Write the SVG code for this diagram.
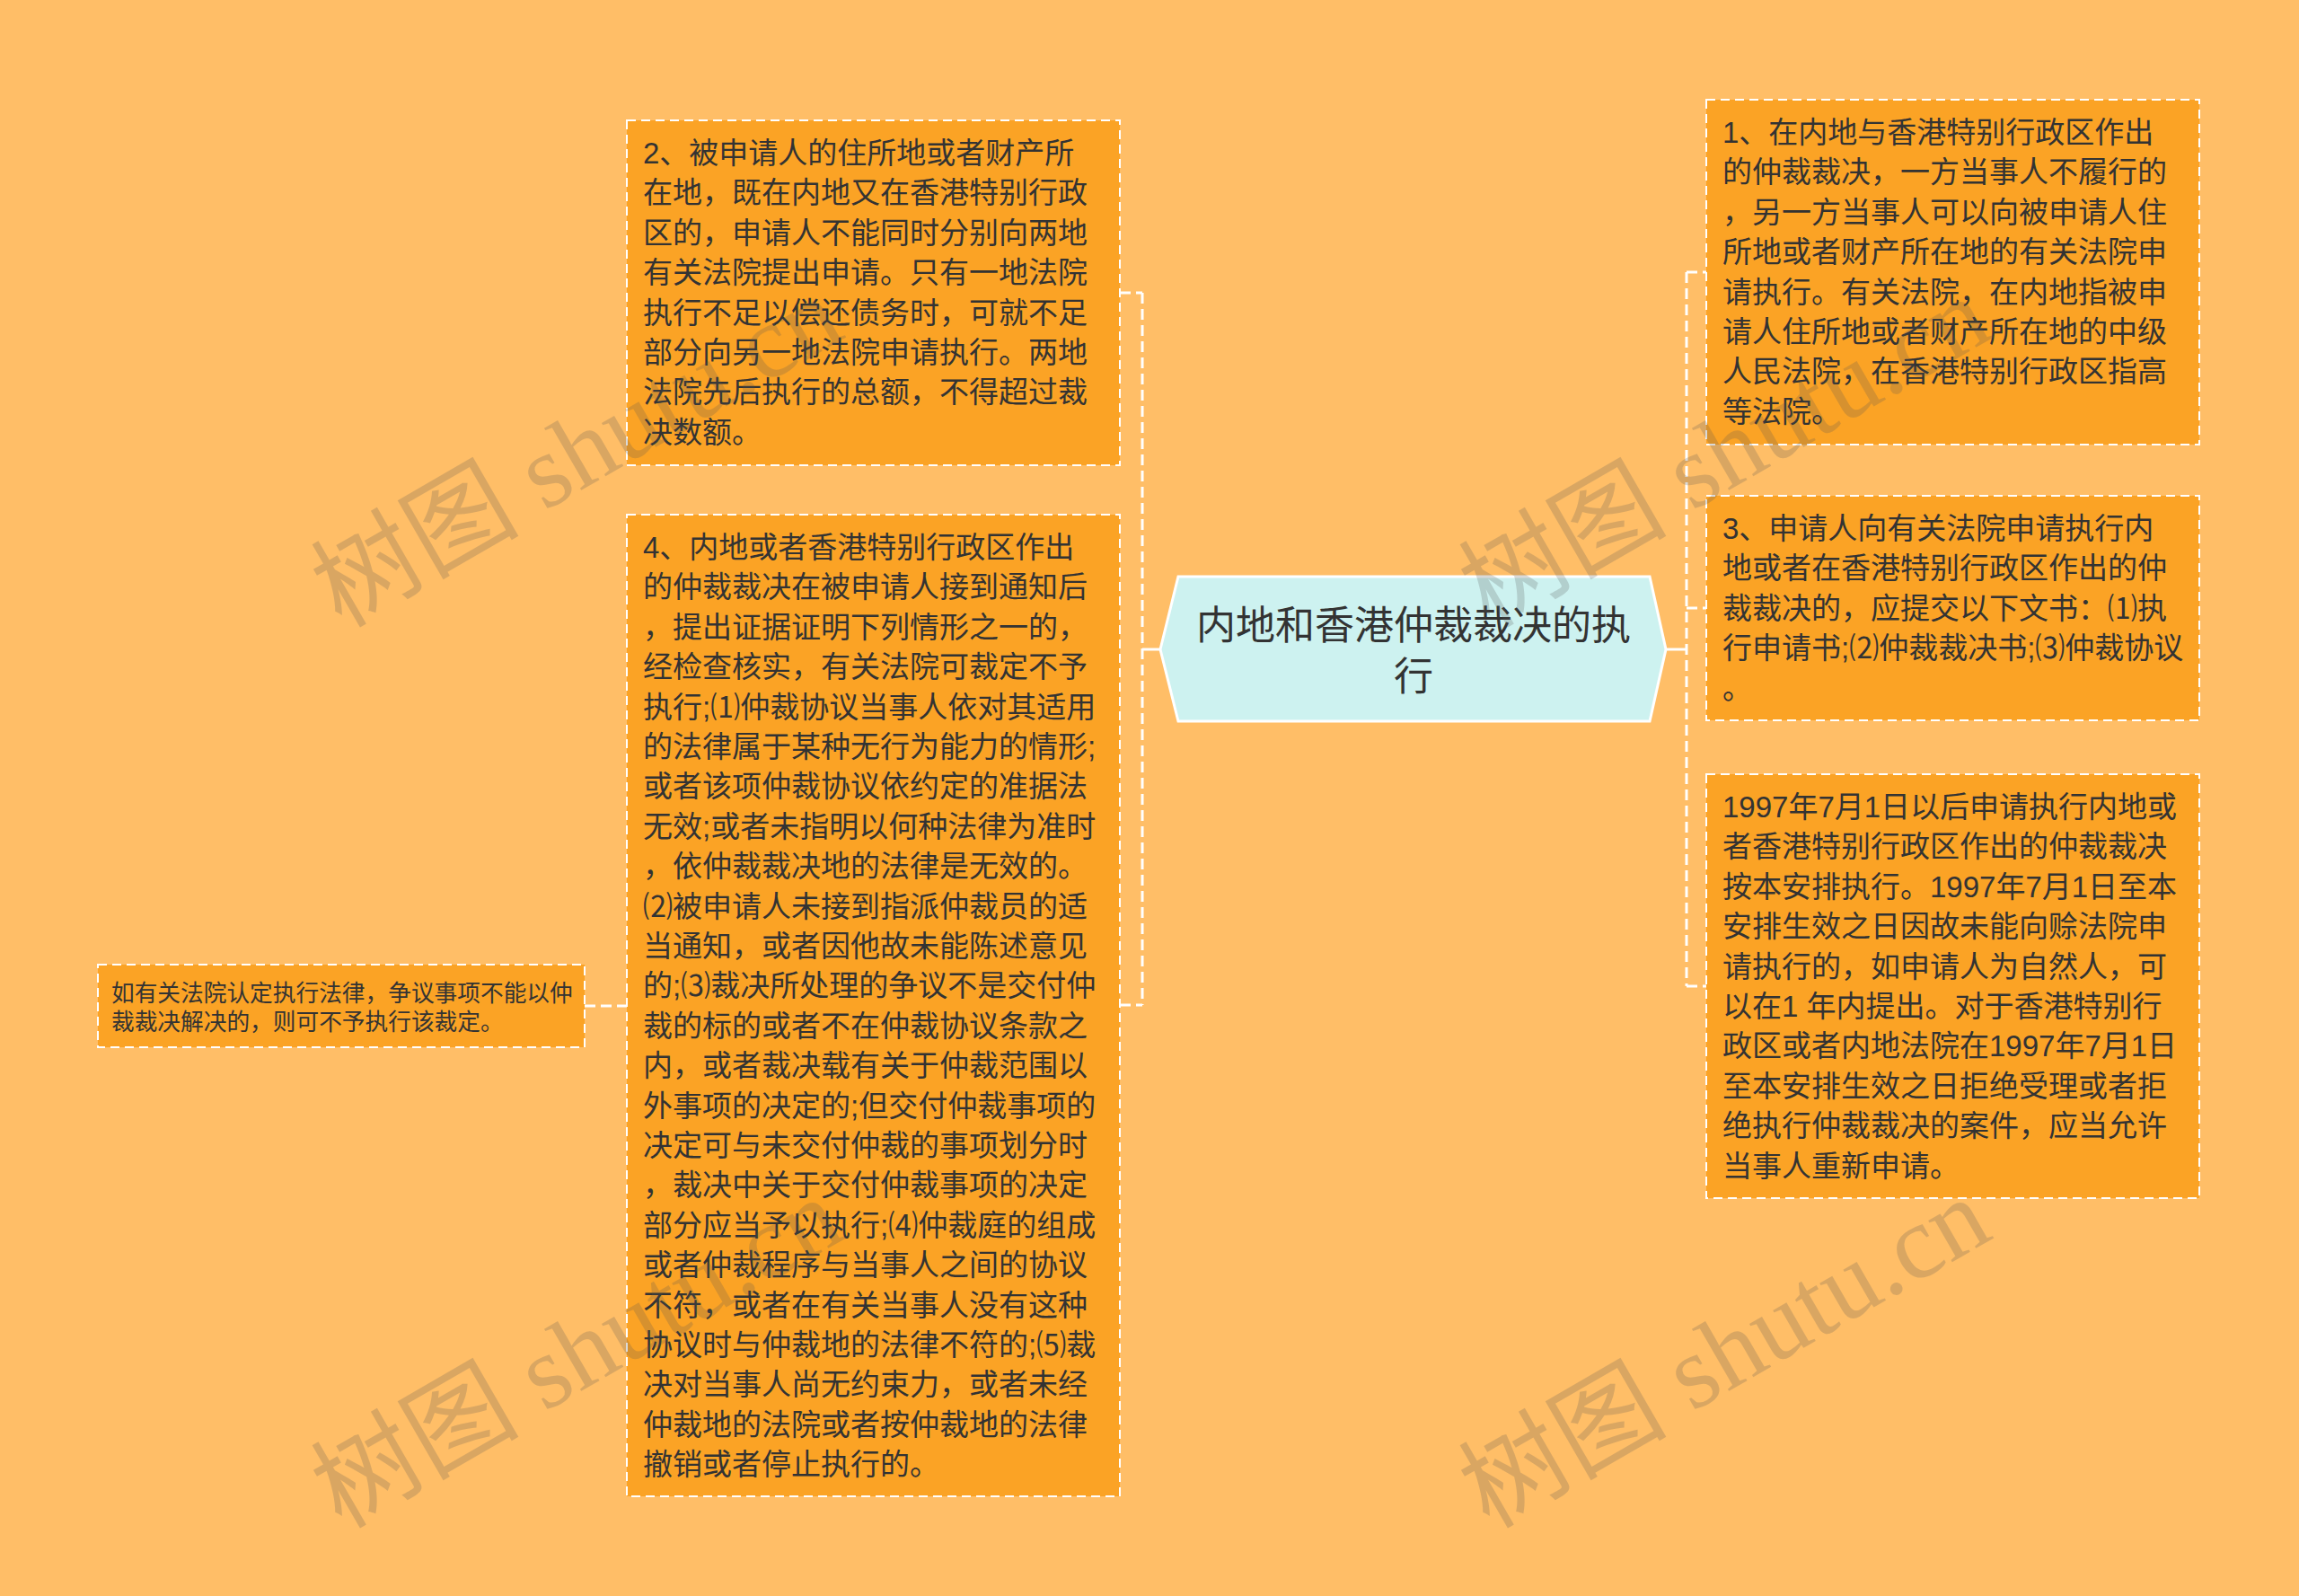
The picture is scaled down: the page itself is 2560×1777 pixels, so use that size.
<svg xmlns="http://www.w3.org/2000/svg" width="2560" height="1777" viewBox="0 0 2560 1777">
<style>
.bg{fill:#ffbe67}
.box{fill:#fba325;stroke:#ffffff;stroke-width:2;stroke-dasharray:10 6}
.t{font-family:'Liberation Sans','Noto Sans CJK SC',sans-serif;font-size:33px;fill:#333333}
.ts{font-family:'Liberation Sans','Noto Sans CJK SC',sans-serif;font-size:25.7px;fill:#333333}
.tc{font-family:'Liberation Sans','Noto Sans CJK SC',sans-serif;font-size:44px;fill:#333333;text-anchor:middle}
.hex{fill:#cdf2f0;stroke:#ffffff;stroke-width:3}
.dash{fill:none;stroke:#ffffff;stroke-width:3;stroke-dasharray:12 6}
.solid{fill:none;stroke:#ffffff;stroke-width:3}
.wm{font-family:'Liberation Serif','Noto Sans CJK SC',serif;font-size:116px;fill:#555555;opacity:0.22}
</style>
<rect class="bg" x="0" y="0" width="2560" height="1777"/>
<g id="connectors">
<path class="solid" d="M1292,723 H1272"/>
<path class="dash" d="M1272,326 V1119"/>
<path class="dash" d="M1247,326 H1272"/>
<path class="dash" d="M1247,1119 H1272"/>
<path class="solid" d="M1855,723 H1878"/>
<path class="dash" d="M1878,303 V1098"/>
<path class="dash" d="M1878,303 H1900"/>
<path class="dash" d="M1878,677 H1900"/>
<path class="dash" d="M1878,1098 H1900"/>
<path class="dash" d="M651,1120 H698"/>
</g>
<g id="center">
<polygon class="hex" points="1292,723 1312,642 1837,642 1855,723 1837,803 1312,803"/>
<text class="tc" x="1574" y="712">内地和香港仲裁裁决的执<tspan x="1574" dy="57">行</tspan></text>
</g>
<g id="nodeA">
<rect class="box" x="698" y="134" width="549" height="384"/>
<text class="t" x="716" y="182"><tspan x="716">2、被申请人的住所地或者财产所</tspan><tspan x="716" dy="44.4">在地，既在内地又在香港特别行政</tspan><tspan x="716" dy="44.4">区的，申请人不能同时分别向两地</tspan><tspan x="716" dy="44.4">有关法院提出申请。只有一地法院</tspan><tspan x="716" dy="44.4">执行不足以偿还债务时，可就不足</tspan><tspan x="716" dy="44.4">部分向另一地法院申请执行。两地</tspan><tspan x="716" dy="44.4">法院先后执行的总额，不得超过裁</tspan><tspan x="716" dy="44.4">决数额。</tspan></text>
</g>
<g id="nodeB">
<rect class="box" x="698" y="573" width="549" height="1093"/>
<text class="t" x="716" y="621"><tspan x="716">4、内地或者香港特别行政区作出</tspan><tspan x="716" dy="44.4">的仲裁裁决在被申请人接到通知后</tspan><tspan x="716" dy="44.4">，提出证据证明下列情形之一的，</tspan><tspan x="716" dy="44.4">经检查核实，有关法院可裁定不予</tspan><tspan x="716" dy="44.4">执行;⑴仲裁协议当事人依对其适用</tspan><tspan x="716" dy="44.4">的法律属于某种无行为能力的情形;</tspan><tspan x="716" dy="44.4">或者该项仲裁协议依约定的准据法</tspan><tspan x="716" dy="44.4">无效;或者未指明以何种法律为准时</tspan><tspan x="716" dy="44.4">，依仲裁裁决地的法律是无效的。</tspan><tspan x="716" dy="44.4">⑵被申请人未接到指派仲裁员的适</tspan><tspan x="716" dy="44.4">当通知，或者因他故未能陈述意见</tspan><tspan x="716" dy="44.4">的;⑶裁决所处理的争议不是交付仲</tspan><tspan x="716" dy="44.4">裁的标的或者不在仲裁协议条款之</tspan><tspan x="716" dy="44.4">内，或者裁决载有关于仲裁范围以</tspan><tspan x="716" dy="44.4">外事项的决定的;但交付仲裁事项的</tspan><tspan x="716" dy="44.4">决定可与未交付仲裁的事项划分时</tspan><tspan x="716" dy="44.4">，裁决中关于交付仲裁事项的决定</tspan><tspan x="716" dy="44.4">部分应当予以执行;⑷仲裁庭的组成</tspan><tspan x="716" dy="44.4">或者仲裁程序与当事人之间的协议</tspan><tspan x="716" dy="44.4">不符，或者在有关当事人没有这种</tspan><tspan x="716" dy="44.4">协议时与仲裁地的法律不符的;⑸裁</tspan><tspan x="716" dy="44.4">决对当事人尚无约束力，或者未经</tspan><tspan x="716" dy="44.4">仲裁地的法院或者按仲裁地的法律</tspan><tspan x="716" dy="44.4">撤销或者停止执行的。</tspan></text>
</g>
<g id="nodeC">
<rect class="box" x="109" y="1074" width="542" height="92"/>
<text class="ts" x="124" y="1115"><tspan x="124">如有关法院认定执行法律，争议事项不能以仲</tspan><tspan x="124" dy="31.5">裁裁决解决的，则可不予执行该裁定。</tspan></text>
</g>
<g id="nodeD">
<rect class="box" x="1900" y="111" width="549" height="384"/>
<text class="t" x="1918" y="159"><tspan x="1918">1、在内地与香港特别行政区作出</tspan><tspan x="1918" dy="44.4">的仲裁裁决，一方当事人不履行的</tspan><tspan x="1918" dy="44.4">，另一方当事人可以向被申请人住</tspan><tspan x="1918" dy="44.4">所地或者财产所在地的有关法院申</tspan><tspan x="1918" dy="44.4">请执行。有关法院，在内地指被申</tspan><tspan x="1918" dy="44.4">请人住所地或者财产所在地的中级</tspan><tspan x="1918" dy="44.4">人民法院，在香港特别行政区指高</tspan><tspan x="1918" dy="44.4">等法院。</tspan></text>
</g>
<g id="nodeE">
<rect class="box" x="1900" y="552" width="549" height="250"/>
<text class="t" x="1918" y="600"><tspan x="1918">3、申请人向有关法院申请执行内</tspan><tspan x="1918" dy="44.4">地或者在香港特别行政区作出的仲</tspan><tspan x="1918" dy="44.4">裁裁决的，应提交以下文书：⑴执</tspan><tspan x="1918" dy="44.4">行申请书;⑵仲裁裁决书;⑶仲裁协议</tspan><tspan x="1918" dy="44.4">。</tspan></text>
</g>
<g id="nodeF">
<rect class="box" x="1900" y="862" width="549" height="472"/>
<text class="t" x="1918" y="910"><tspan x="1918">1997年7月1日以后申请执行内地或</tspan><tspan x="1918" dy="44.4">者香港特别行政区作出的仲裁裁决</tspan><tspan x="1918" dy="44.4">按本安排执行。1997年7月1日至本</tspan><tspan x="1918" dy="44.4">安排生效之日因故未能向赊法院申</tspan><tspan x="1918" dy="44.4">请执行的，如申请人为自然人，可</tspan><tspan x="1918" dy="44.4">以在1 年内提出。对于香港特别行</tspan><tspan x="1918" dy="44.4">政区或者内地法院在1997年7月1日</tspan><tspan x="1918" dy="44.4">至本安排生效之日拒绝受理或者拒</tspan><tspan x="1918" dy="44.4">绝执行仲裁裁决的案件，应当允许</tspan><tspan x="1918" dy="44.4">当事人重新申请。</tspan></text>
</g>
<g id="watermarks">
<text class="wm" transform="translate(380,700) rotate(-30)">树图 shutu.cn</text>
<text class="wm" transform="translate(1658,700) rotate(-30)">树图 shutu.cn</text>
<text class="wm" transform="translate(380,1703) rotate(-30)">树图 shutu.cn</text>
<text class="wm" transform="translate(1658,1703) rotate(-30)">树图 shutu.cn</text>
</g>
</svg>
